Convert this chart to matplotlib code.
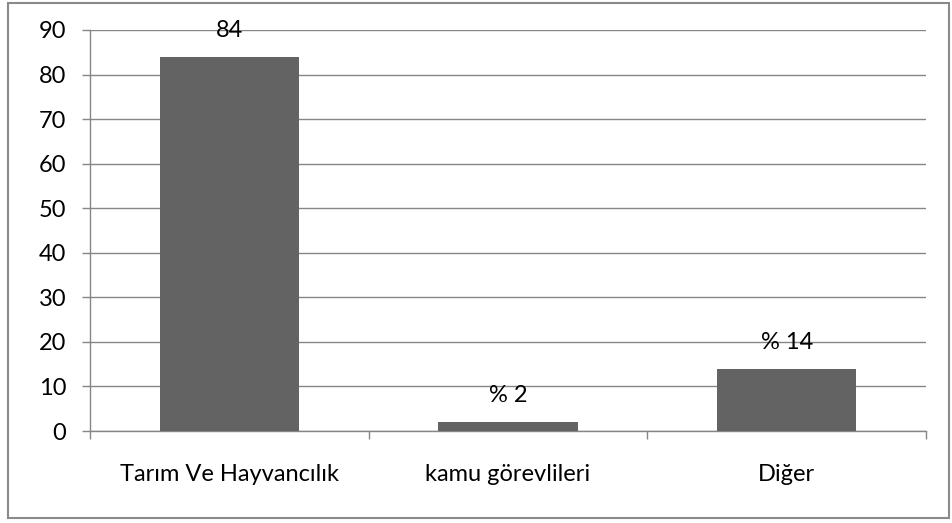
import matplotlib
matplotlib.use("Agg")
import matplotlib.pyplot as plt
from matplotlib.patches import Rectangle

categories = ["Tarım Ve Hayvancılık", "kamu görevlileri", "Diğer"]
values = [84, 2, 14]
bar_labels = ["84", "% 2", "% 14"]
yticks = [0, 10, 20, 30, 40, 50, 60, 70, 80, 90]

plt.rcParams["font.family"] = ["Lato", "DejaVu Sans"]

fig = plt.figure(figsize=(9.52, 5.23), dpi=100)
W, H = 952, 523
ax = fig.add_axes([90 / W, (H - 431) / H, 836 / W, 401 / H])

# outer chart border
fig.patches.append(Rectangle((8 / W, 5 / H), 941 / W, 515 / H, transform=fig.transFigure,
                             fill=False, edgecolor="#8a8a8a", linewidth=1.5))

x = list(range(len(categories)))
ax.bar(x, values, width=0.5, color="#636363", zorder=3)
ax.set_xlim(-0.5, len(categories) - 0.5)
ax.set_ylim(0, 90)
ax.set_yticks(yticks)
ax.yaxis.grid(True, color="#868686", linewidth=1, zorder=0)

for xi, v, lab in zip(x, values, bar_labels):
    ax.annotate(lab, (xi, v), xytext=(0, 19), textcoords="offset points",
                ha="center", va="center", fontsize=17, color="black")

ax.set_xticks(x)
ax.set_xticklabels(categories, fontsize=17)
ax.set_xticks([-0.5, 0.5, 1.5, 2.5], minor=True)
ax.tick_params(axis="x", which="major", length=0, pad=24)
ax.tick_params(axis="x", which="minor", length=6, width=1, color="#868686")
ax.tick_params(axis="y", length=6, width=1, color="#868686", labelsize=17, pad=11)

for s in ("top", "right"):
    ax.spines[s].set_visible(False)
for s in ("left", "bottom"):
    ax.spines[s].set_color("#868686")
    ax.spines[s].set_linewidth(1)

fig.savefig("out.png", dpi=100)
